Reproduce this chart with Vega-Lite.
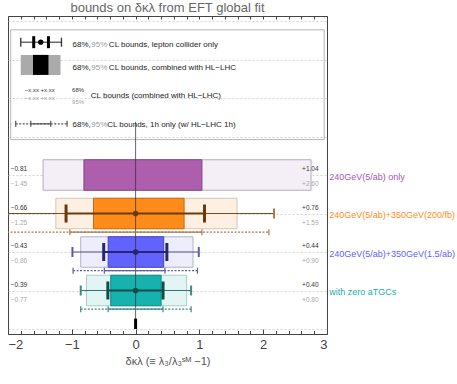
{
  "$schema": "https://vega.github.io/schema/vega-lite/v6.json",
  "autosize": "none",
  "width": 319,
  "height": 318,
  "padding": {"left": 8, "top": 16, "right": 130, "bottom": 50},
  "background": "white",
  "title": {"text": "bounds on δκλ from EFT global fit", "fontSize": 13, "color": "#666666", "fontWeight": "normal", "offset": 1},
  "config": {
    "font": "Liberation Sans",
    "view": {"stroke": "#444444", "strokeWidth": 1},
    "axisY": {"grid": true, "gridDash": [2, 2], "gridColor": "#c8c8c8", "gridWidth": 0.8, "tickCount": 8, "labels": false, "ticks": false, "domain": false, "title": null}
  },
  "datasets": {
    "box95": [
      {"row": 4, "lo": -1.45, "hi": 2.75, "s": "p"},
      {"row": 3, "lo": -1.25, "hi": 1.59, "s": "o"},
      {"row": 2, "lo": -0.86, "hi": 0.90, "s": "b"},
      {"row": 1, "lo": -0.77, "hi": 0.80, "s": "t"}
    ],
    "box68": [
      {"row": 4, "lo": -0.81, "hi": 1.04, "s": "p"},
      {"row": 3, "lo": -0.66, "hi": 0.76, "s": "o"},
      {"row": 2, "lo": -0.43, "hi": 0.44, "s": "b"},
      {"row": 1, "lo": -0.39, "hi": 0.40, "s": "t"}
    ],
    "err95": [
      {"row": 3, "lo": -2.4, "hi": 2.17, "s": "o"},
      {"row": 2, "lo": -0.99, "hi": 0.99, "s": "b"},
      {"row": 1, "lo": -0.86, "hi": 0.87, "s": "t"}
    ],
    "err68": [
      {"row": 3, "lo": -1.09, "hi": 1.08, "s": "o"},
      {"row": 2, "lo": -0.50, "hi": 0.49, "s": "b"},
      {"row": 1, "lo": -0.435, "hi": 0.43, "s": "t"}
    ],
    "tick95": [
      {"row": 3, "x": 2.17, "s": "o"},
      {"row": 2, "x": -0.99, "s": "b"},
      {"row": 2, "x": 0.99, "s": "b"},
      {"row": 1, "x": -0.86, "s": "t"},
      {"row": 1, "x": 0.87, "s": "t"}
    ],
    "tick68": [
      {"row": 3, "x": -1.09, "s": "o"},
      {"row": 3, "x": 1.08, "s": "o"},
      {"row": 2, "x": -0.50, "s": "b"},
      {"row": 2, "x": 0.49, "s": "b"},
      {"row": 1, "x": -0.435, "s": "t"},
      {"row": 1, "x": 0.43, "s": "t"}
    ],
    "dots": [
      {"row": 3, "x": 0, "s": "o"},
      {"row": 2, "x": 0, "s": "b"},
      {"row": 1, "x": 0, "s": "t"}
    ],
    "h1_95": [
      {"row": 3, "lo": -2.4, "hi": 2.09, "s": "o"},
      {"row": 2, "lo": -0.98, "hi": 0.97, "s": "b"},
      {"row": 1, "lo": -0.86, "hi": 0.87, "s": "t"}
    ],
    "h1_68": [
      {"row": 3, "lo": -1.03, "hi": 1.04, "s": "o"},
      {"row": 2, "lo": -0.49, "hi": 0.46, "s": "b"},
      {"row": 1, "lo": -0.43, "hi": 0.43, "s": "t"}
    ],
    "h1tick": [
      {"row": 3, "x": -1.03, "s": "o"},
      {"row": 3, "x": 1.04, "s": "o"},
      {"row": 3, "x": 2.09, "s": "o"},
      {"row": 2, "x": -0.98, "s": "b"},
      {"row": 2, "x": -0.49, "s": "b"},
      {"row": 2, "x": 0.46, "s": "b"},
      {"row": 2, "x": 0.97, "s": "b"},
      {"row": 1, "x": -0.86, "s": "t"},
      {"row": 1, "x": -0.43, "s": "t"},
      {"row": 1, "x": 0.43, "s": "t"},
      {"row": 1, "x": 0.87, "s": "t"}
    ],
    "vals68": [
      {"row": 4, "x": -1.958, "label": "−0.81"},
      {"row": 4, "x": 2.61, "label": "+1.04"},
      {"row": 3, "x": -1.958, "label": "−0.66"},
      {"row": 3, "x": 2.61, "label": "+0.76"},
      {"row": 2, "x": -1.958, "label": "−0.43"},
      {"row": 2, "x": 2.61, "label": "+0.44"},
      {"row": 1, "x": -1.958, "label": "−0.39"},
      {"row": 1, "x": 2.61, "label": "+0.40"}
    ],
    "vals95": [
      {"row": 4, "x": -1.958, "label": "−1.45"},
      {"row": 4, "x": 2.61, "label": "+2.60"},
      {"row": 3, "x": -1.958, "label": "−1.25"},
      {"row": 3, "x": 2.61, "label": "+1.59"},
      {"row": 2, "x": -1.958, "label": "−0.86"},
      {"row": 2, "x": 2.61, "label": "+0.90"},
      {"row": 1, "x": -1.958, "label": "−0.77"},
      {"row": 1, "x": 2.61, "label": "+0.80"}
    ],
    "names": [
      {"row": 4, "x": 3.035, "name": "240GeV(5/ab) only", "s": "p"},
      {"row": 3, "x": 3.035, "name": "240GeV(5/ab)+350GeV(200/fb)", "s": "o"},
      {"row": 2, "x": 3.035, "name": "240GeV(5/ab)+350GeV(1.5/ab)", "s": "b"},
      {"row": 1, "x": 3.035, "name": "with zero aTGCs", "s": "t"}
    ],
    "zero": [{"x": 0, "y": 0, "y2": 5.38}],
    "zerobar": [{"x": 0, "y": 0, "y2": 0.27}],
    "legframe": [{"x": -1.958, "x2": 2.956, "y": 4.92, "y2": 7.77}],
    "legbar": [{"x": -1.80, "x2": -1.162, "y": 7.45}],
    "legthin": [{"x": -1.80, "y": 7.45}, {"x": -1.162, "y": 7.45}],
    "legthick": [{"x": -1.597, "y": 7.45}, {"x": -1.366, "y": 7.45}],
    "legdot": [{"x": -1.487, "y": 7.45}],
    "legbox": [
      {"x": -1.80, "x2": -1.177, "y": 6.86, "k": "95"},
      {"x": -1.608, "x2": -1.366, "y": 6.86, "k": "68"}
    ],
    "leg1h95": [{"x": -1.879, "x2": -1.074, "y": 5.33}],
    "leg1h68": [{"x": -1.643, "x2": -1.33, "y": 5.33}],
    "leg1htick": [{"x": -1.879, "y": 5.33}, {"x": -1.643, "y": 5.33}, {"x": -1.33, "y": 5.33}, {"x": -1.074, "y": 5.33}],
    "legtext8": [
      {"x": -0.989, "y": 7.38, "text": "68%,", "k": "k"},
      {"x": -0.694, "y": 7.38, "text": "95%", "k": "g"},
      {"x": -0.419, "y": 7.38, "text": "CL bounds, lepton collider only", "k": "k"},
      {"x": -0.989, "y": 6.79, "text": "68%,", "k": "k"},
      {"x": -0.694, "y": 6.79, "text": "95%", "k": "g"},
      {"x": -0.419, "y": 6.79, "text": "CL bounds, combined with HL−LHC", "k": "k"},
      {"x": -0.702, "y": 6.04, "text": "CL bounds (combined with HL−LHC)", "k": "k"},
      {"x": -0.989, "y": 5.30, "text": "68%,", "k": "k"},
      {"x": -0.694, "y": 5.30, "text": "95%", "k": "g"},
      {"x": -0.445, "y": 5.30, "text": "CL bounds, 1h only (w/ HL−LHC 1h)", "k": "k"}
    ],
    "legtext6": [
      {"x": -1.738, "y": 6.21, "text": "−x.xx  +x.xx", "k": "k"},
      {"x": -1.738, "y": 6.0, "text": "−x.xx  +x.xx", "k": "g"},
      {"x": -0.995, "y": 6.21, "text": "68%", "k": "k"},
      {"x": -0.995, "y": 5.89, "text": "95%", "k": "g"}
    ]
  },
  "resolve": {
    "scale": {"fill": "independent", "stroke": "independent", "color": "independent"},
    "axis": {"x": "independent"}
  },
  "layer": [
    {
      "data": {"name": "legframe"},
      "mark": {"type": "rect", "fillOpacity": 0, "stroke": "#b5b5b5", "strokeWidth": 1},
      "encoding": {
        "x": {"field": "x", "type": "quantitative", "scale": {"domain": [-2, 3], "nice": false, "zero": false},
          "axis": {"orient": "top", "values": [-2, -1.8, -1.6, -1.4, -1.2, -1, -0.8, -0.6, -0.4, -0.2, 0, 0.2, 0.4, 0.6, 0.8, 1, 1.2, 1.4, 1.6, 1.8, 2, 2.2, 2.4, 2.6, 2.8, 3], "labels": false, "tickSize": -3, "tickColor": "#444444", "domain": false, "grid": false, "title": null}},
        "x2": {"field": "x2"},
        "y": {"field": "y", "type": "quantitative", "scale": {"domain": [0, 8], "nice": false, "zero": false}},
        "y2": {"field": "y2"}
      }
    },
    {
      "data": {"name": "box95"},
      "mark": {"type": "bar", "height": 30.5, "strokeWidth": 1},
      "encoding": {
        "x": {"field": "lo", "type": "quantitative", "axis": null},
        "x2": {"field": "hi"},
        "y": {"field": "row", "type": "quantitative"},
        "fill": {"field": "s", "type": "nominal", "legend": null, "scale": {"domain": ["p", "o", "b", "t"], "range": ["#f4eef7", "#fdf0e2", "#ededfc", "#e2f4f3"]}},
        "stroke": {"field": "s", "type": "nominal", "legend": null, "scale": {"domain": ["p", "o", "b", "t"], "range": ["#b5aebb", "#d4c4b4", "#b3b3cc", "#aacac8"]}}
      }
    },
    {
      "data": {"name": "box68"},
      "mark": {"type": "bar", "height": 30.5, "strokeWidth": 1},
      "encoding": {
        "x": {"field": "lo", "type": "quantitative", "axis": null},
        "x2": {"field": "hi"},
        "y": {"field": "row", "type": "quantitative"},
        "fill": {"field": "s", "type": "nominal", "legend": null, "scale": {"domain": ["p", "o", "b", "t"], "range": ["#ad5fad", "#ff8c1a", "#6262ff", "#17b2ad"]}},
        "stroke": {"field": "s", "type": "nominal", "legend": null, "scale": {"domain": ["p", "o", "b", "t"], "range": ["#84448a", "#c9680c", "#4545c0", "#108c87"]}}
      }
    },
    {
      "data": {"name": "zero"},
      "mark": {"type": "rule", "color": "#333333", "strokeWidth": 1, "opacity": 0.75},
      "encoding": {
        "x": {"field": "x", "type": "quantitative",
          "axis": {"orient": "bottom", "values": [-2, -1, 0, 1, 2, 3], "tickSize": -5, "tickColor": "#444444", "domainColor": "#444444", "labelFontSize": 13, "labelColor": "#444444", "labelPadding": 9, "grid": false, "labelExpr": "replace(datum.label, '-', '−')",
            "title": "δκλ (≡ λ₃/λ₃ˢᴹ −1)", "titleFontSize": 11, "titleFontWeight": "normal", "titleColor": "#555555", "titlePadding": 4}},
        "y": {"field": "y", "type": "quantitative"},
        "y2": {"field": "y2"}
      }
    },
    {
      "data": {"name": "zerobar"},
      "mark": {"type": "rule", "color": "#000000", "strokeWidth": 3},
      "encoding": {
        "x": {"field": "x", "type": "quantitative",
          "axis": {"orient": "bottom", "values": [-1.8, -1.6, -1.4, -1.2, -0.8, -0.6, -0.4, -0.2, 0.2, 0.4, 0.6, 0.8, 1.2, 1.4, 1.6, 1.8, 2.2, 2.4, 2.6, 2.8], "labels": false, "tickSize": -3.5, "tickColor": "#444444", "domain": false, "grid": false, "title": null}},
        "y": {"field": "y", "type": "quantitative"},
        "y2": {"field": "y2"}
      }
    },
    {
      "data": {"name": "err95"},
      "mark": {"type": "rule", "strokeWidth": 1.2, "clip": true},
      "encoding": {
        "x": {"field": "lo", "type": "quantitative", "axis": null},
        "x2": {"field": "hi"},
        "y": {"field": "row", "type": "quantitative"},
        "stroke": {"field": "s", "type": "nominal", "legend": null, "scale": {"domain": ["o", "b", "t"], "range": ["#7a4a1a", "#4a4a90", "#2c7775"]}}
      }
    },
    {
      "data": {"name": "err68"},
      "mark": {"type": "rule", "strokeWidth": 2},
      "encoding": {
        "x": {"field": "lo", "type": "quantitative", "axis": null},
        "x2": {"field": "hi"},
        "y": {"field": "row", "type": "quantitative"},
        "stroke": {"field": "s", "type": "nominal", "legend": null, "scale": {"domain": ["o", "b", "t"], "range": ["#6b3a0c", "#262670", "#0b4f4c"]}}
      }
    },
    {
      "data": {"name": "tick95"},
      "mark": {"type": "tick", "orient": "vertical", "size": 10, "thickness": 2, "opacity": 1},
      "encoding": {
        "x": {"field": "x", "type": "quantitative", "axis": null},
        "y": {"field": "row", "type": "quantitative"},
        "color": {"field": "s", "type": "nominal", "legend": null, "scale": {"domain": ["o", "b", "t"], "range": ["#a87848", "#5c5cae", "#3a8c89"]}}
      }
    },
    {
      "data": {"name": "tick68"},
      "mark": {"type": "tick", "orient": "vertical", "size": 18, "thickness": 3, "opacity": 1},
      "encoding": {
        "x": {"field": "x", "type": "quantitative", "axis": null},
        "y": {"field": "row", "type": "quantitative"},
        "color": {"field": "s", "type": "nominal", "legend": null, "scale": {"domain": ["o", "b", "t"], "range": ["#6b3a0c", "#262670", "#0b4f4c"]}}
      }
    },
    {
      "data": {"name": "dots"},
      "mark": {"type": "circle", "size": 32, "opacity": 1},
      "encoding": {
        "x": {"field": "x", "type": "quantitative", "axis": null},
        "y": {"field": "row", "type": "quantitative"},
        "color": {"field": "s", "type": "nominal", "legend": null, "scale": {"domain": ["o", "b", "t"], "range": ["#6b3a0c", "#262670", "#0b4f4c"]}}
      }
    },
    {
      "data": {"name": "h1_95"},
      "mark": {"type": "rule", "strokeWidth": 1.2, "strokeDash": [2, 1.5], "yOffset": 18.7, "clip": true},
      "encoding": {
        "x": {"field": "lo", "type": "quantitative", "axis": null},
        "x2": {"field": "hi"},
        "y": {"field": "row", "type": "quantitative"},
        "stroke": {"field": "s", "type": "nominal", "legend": null, "scale": {"domain": ["o", "b", "t"], "range": ["#a87a50", "#5f5fa5", "#3c8a88"]}}
      }
    },
    {
      "data": {"name": "h1_68"},
      "mark": {"type": "rule", "strokeWidth": 1.2, "yOffset": 18.7},
      "encoding": {
        "x": {"field": "lo", "type": "quantitative", "axis": null},
        "x2": {"field": "hi"},
        "y": {"field": "row", "type": "quantitative"},
        "stroke": {"field": "s", "type": "nominal", "legend": null, "scale": {"domain": ["o", "b", "t"], "range": ["#a87a50", "#5f5fa5", "#3c8a88"]}}
      }
    },
    {
      "data": {"name": "h1tick"},
      "mark": {"type": "tick", "orient": "vertical", "size": 6, "thickness": 1.2, "yOffset": 18.7, "opacity": 1},
      "encoding": {
        "x": {"field": "x", "type": "quantitative", "axis": null},
        "y": {"field": "row", "type": "quantitative"},
        "color": {"field": "s", "type": "nominal", "legend": null, "scale": {"domain": ["o", "b", "t"], "range": ["#a87a50", "#5f5fa5", "#3c8a88"]}}
      }
    },
    {
      "data": {"name": "vals68"},
      "mark": {"type": "text", "align": "left", "baseline": "middle", "fontSize": 6.5, "color": "#333333", "dy": -6},
      "encoding": {
        "x": {"field": "x", "type": "quantitative", "axis": null},
        "y": {"field": "row", "type": "quantitative"},
        "text": {"field": "label"}
      }
    },
    {
      "data": {"name": "vals95"},
      "mark": {"type": "text", "align": "left", "baseline": "middle", "fontSize": 6.5, "color": "#a8a8a8", "dy": 9},
      "encoding": {
        "x": {"field": "x", "type": "quantitative", "axis": null},
        "y": {"field": "row", "type": "quantitative"},
        "text": {"field": "label"}
      }
    },
    {
      "data": {"name": "names"},
      "mark": {"type": "text", "align": "left", "baseline": "middle", "fontSize": 9, "dy": 1.5},
      "encoding": {
        "x": {"field": "x", "type": "quantitative", "axis": null},
        "y": {"field": "row", "type": "quantitative"},
        "text": {"field": "name"},
        "color": {"field": "s", "type": "nominal", "legend": null, "scale": {"domain": ["p", "o", "b", "t"], "range": ["#a854b4", "#ff8c1a", "#6060ff", "#17aea9"]}}
      }
    },
    {
      "data": {"name": "legbar"},
      "mark": {"type": "rule", "color": "#222222", "strokeWidth": 1},
      "encoding": {
        "x": {"field": "x", "type": "quantitative", "axis": null},
        "x2": {"field": "x2"},
        "y": {"field": "y", "type": "quantitative"}
      }
    },
    {
      "data": {"name": "legthin"},
      "mark": {"type": "tick", "orient": "vertical", "size": 9, "thickness": 1.3, "color": "#333333", "opacity": 1},
      "encoding": {
        "x": {"field": "x", "type": "quantitative", "axis": null},
        "y": {"field": "y", "type": "quantitative"}
      }
    },
    {
      "data": {"name": "legthick"},
      "mark": {"type": "tick", "orient": "vertical", "size": 12, "thickness": 3, "color": "#000000", "opacity": 1},
      "encoding": {
        "x": {"field": "x", "type": "quantitative", "axis": null},
        "y": {"field": "y", "type": "quantitative"}
      }
    },
    {
      "data": {"name": "legdot"},
      "mark": {"type": "circle", "size": 28, "color": "#000000", "opacity": 1},
      "encoding": {
        "x": {"field": "x", "type": "quantitative", "axis": null},
        "y": {"field": "y", "type": "quantitative"}
      }
    },
    {
      "data": {"name": "legbox"},
      "mark": {"type": "bar", "height": 20},
      "encoding": {
        "x": {"field": "x", "type": "quantitative", "axis": null},
        "x2": {"field": "x2"},
        "y": {"field": "y", "type": "quantitative"},
        "fill": {"field": "k", "type": "nominal", "legend": null, "scale": {"domain": ["95", "68"], "range": ["#aaaaaa", "#000000"]}}
      }
    },
    {
      "data": {"name": "leg1h95"},
      "mark": {"type": "rule", "color": "#555555", "strokeWidth": 1.2, "strokeDash": [2, 1.5]},
      "encoding": {
        "x": {"field": "x", "type": "quantitative", "axis": null},
        "x2": {"field": "x2"},
        "y": {"field": "y", "type": "quantitative"}
      }
    },
    {
      "data": {"name": "leg1h68"},
      "mark": {"type": "rule", "color": "#555555", "strokeWidth": 1.2},
      "encoding": {
        "x": {"field": "x", "type": "quantitative", "axis": null},
        "x2": {"field": "x2"},
        "y": {"field": "y", "type": "quantitative"}
      }
    },
    {
      "data": {"name": "leg1htick"},
      "mark": {"type": "tick", "orient": "vertical", "size": 6, "thickness": 1.2, "color": "#555555", "opacity": 1},
      "encoding": {
        "x": {"field": "x", "type": "quantitative", "axis": null},
        "y": {"field": "y", "type": "quantitative"}
      }
    },
    {
      "data": {"name": "legtext8"},
      "mark": {"type": "text", "align": "left", "baseline": "middle", "fontSize": 8},
      "encoding": {
        "x": {"field": "x", "type": "quantitative", "axis": null},
        "y": {"field": "y", "type": "quantitative"},
        "text": {"field": "text"},
        "color": {"field": "k", "type": "nominal", "legend": null, "scale": {"domain": ["k", "g"], "range": ["#222222", "#9a9a9a"]}}
      }
    },
    {
      "data": {"name": "legtext6"},
      "mark": {"type": "text", "align": "left", "baseline": "middle", "fontSize": 6},
      "encoding": {
        "x": {"field": "x", "type": "quantitative", "axis": null},
        "y": {"field": "y", "type": "quantitative"},
        "text": {"field": "text"},
        "color": {"field": "k", "type": "nominal", "legend": null, "scale": {"domain": ["k", "g"], "range": ["#333333", "#a0a0a0"]}}
      }
    }
  ]
}
